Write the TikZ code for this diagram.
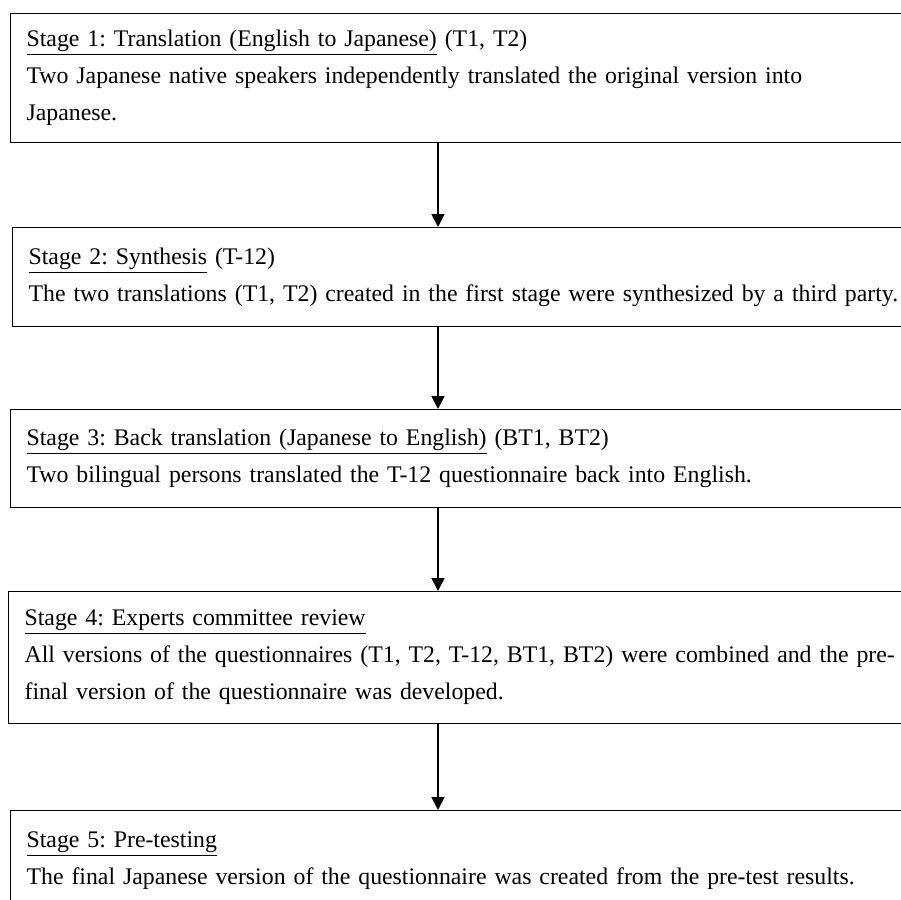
\documentclass[tikz,border=0pt]{standalone}
\usepackage{fontspec}
\setmainfont{Liberation Serif}
\frenchspacing
\usetikzlibrary{arrows.meta}

\tikzset{
  stagebox/.style={draw, line width=0.6pt, anchor=north west, align=left,
    text width=440pt, inner xsep=8pt, inner ysep=3pt,
    font=\fontsize{11.9pt}{18.5pt}\selectfont},
  flow/.style={line width=0.9pt, -{Triangle[length=6.5pt,width=6.5pt]}}
}

\begin{document}
\begin{tikzpicture}[x=0.5pt, y=-0.5pt]
    \useasboundingbox (0,0) rectangle (901,900);

    \node[stagebox, minimum height=64.5pt] (s1) at (10,13)
        {\underline{Stage 1: Translation (English to Japanese)} (T1, T2)\\
         Two Japanese native speakers independently translated the original version into\\
         Japanese.};
    \node[stagebox, minimum height=49.5pt] (s2) at (12,227)
        {\underline{Stage 2: Synthesis} (T-12)\\
         The two translations (T1, T2) created in the first stage were synthesized by a third party.};
    \node[stagebox, minimum height=49pt] (s3) at (10,409)
        {\underline{Stage 3: Back translation (Japanese to English)} (BT1, BT2)\\
         Two bilingual persons translated the T-12 questionnaire back into English.};
    \node[stagebox, minimum height=66pt] (s4) at (8,591)
        {\underline{Stage 4: Experts committee review}\\
         All versions of the questionnaires (T1, T2, T-12, BT1, BT2) were combined and the pre-\\
         final version of the questionnaire was developed.};
    \node[stagebox, minimum height=50pt] (s5) at (10,810)
        {\underline{Stage 5: Pre-testing}\\
         The final Japanese version of the questionnaire was created from the pre-test results.};

    \coordinate (ax) at (438,0);
    \draw[flow] (s1.south -| ax) -- (s2.north -| ax);
    \draw[flow] (s2.south -| ax) -- (s3.north -| ax);
    \draw[flow] (s3.south -| ax) -- (s4.north -| ax);
    \draw[flow] (s4.south -| ax) -- (s5.north -| ax);
\end{tikzpicture}
\end{document}
